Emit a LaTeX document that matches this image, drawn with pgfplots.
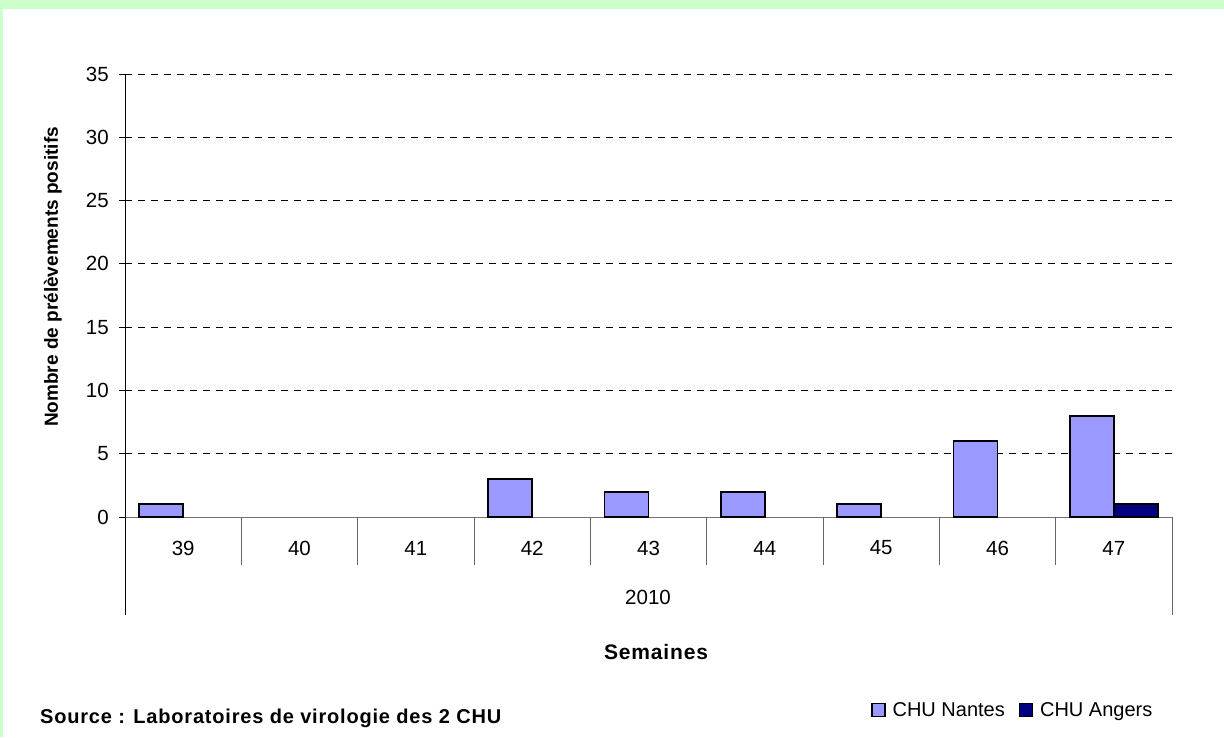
\documentclass[border=0pt]{standalone}
\usepackage{pgfplots}
\pgfplotsset{compat=1.18}
\usepackage{fontspec}
\setmainfont{Liberation Sans}
\definecolor{bggreen}{HTML}{CCFFCC}
\definecolor{nantes}{HTML}{9999FF}
\definecolor{angers}{HTML}{000080}
\begin{document}
\begin{tikzpicture}
\useasboundingbox (0pt,0pt) rectangle (1224pt,737pt);
\fill[bggreen] (0pt,0pt) rectangle (1224pt,737pt);
\fill[white] (3pt,0pt) rectangle (1224pt,728pt);
\begin{axis}[
  scale only axis,
  width=1047pt, height=443pt,
  at={(125pt,220pt)}, anchor=south west,
  xmin=-0.5, xmax=8.5, ymin=0, ymax=35,
  clip=false,
  ybar=0pt, bar width=0.378,
  axis x line*=bottom, axis y line*=left,
  x axis line style={-, draw=black!55, line width=1pt},
  y axis line style={-, draw=black, line width=1pt},
  ytick={0,5,...,35},
  xtick={0,...,8},
  xticklabels={39,40,41,42,43,44,45,46,47},
  tick align=outside,
  major tick length=6pt,
  x tick style={draw=none},
  y tick style={draw=black, line width=1pt},
  extra x ticks={0.5,1.5,...,7.5},
  extra x tick labels={},
  extra x tick style={grid=none, major tick length=48pt, tick align=outside, x tick style={draw=black!60, line width=1pt}},
  ymajorgrids,
  grid style={black, line width=0.8pt, dash pattern=on 7pt off 6pt},
  /pgf/number format/assume math mode=true,
  ticklabel style={font=\fontsize{20.5}{24}\selectfont},
  xticklabel style={anchor=center, yshift=-25pt},
  yticklabel style={anchor=east, inner sep=0pt, xshift=-10pt},
  legend columns=2,
  legend style={at={(0.848,-0.436)}, anchor=center, draw=none, fill=none,
    font=\fontsize{20}{23}\selectfont,
    /tikz/every odd column/.append style={column sep=5pt},
    /tikz/every even column/.append style={column sep=12pt}},
  legend image code/.code={\draw[#1, line width=1.2pt] (0pt,-6.5pt) rectangle (13pt,6.5pt);},
]
\addplot[fill=nantes, draw=black, line width=1.8pt] coordinates {(0,1) (3,3) (4,2) (5,2) (6,1) (7,6) (8,8)};
\addplot[fill=angers, draw=black, line width=1.8pt] coordinates {(8,1)};
\legend{CHU Nantes, CHU Angers}
\draw[black, line width=1pt] (axis cs:-0.5,0) -- ++(0pt,-98pt);
\draw[black!60, line width=1pt] (axis cs:8.5,0) -- ++(0pt,-98pt);
\end{axis}
\node[font=\fontsize{20.5}{24}\selectfont] at (648pt,140pt) {2010};
\node[font=\fontsize{21}{24}\selectfont\bfseries\addfontfeature{LetterSpace=4}] at (656pt,85pt) {Semaines};
\node[font=\fontsize{19}{22}\selectfont\bfseries, rotate=90] at (53pt,460pt) {Nombre de prélèvements positifs};
\node[font=\fontsize{20}{23}\selectfont\bfseries\addfontfeature{LetterSpace=4}, anchor=west, inner sep=0pt] at (40pt,19pt) {Source : Laboratoires de virologie des 2 CHU};
\end{tikzpicture}
\end{document}
